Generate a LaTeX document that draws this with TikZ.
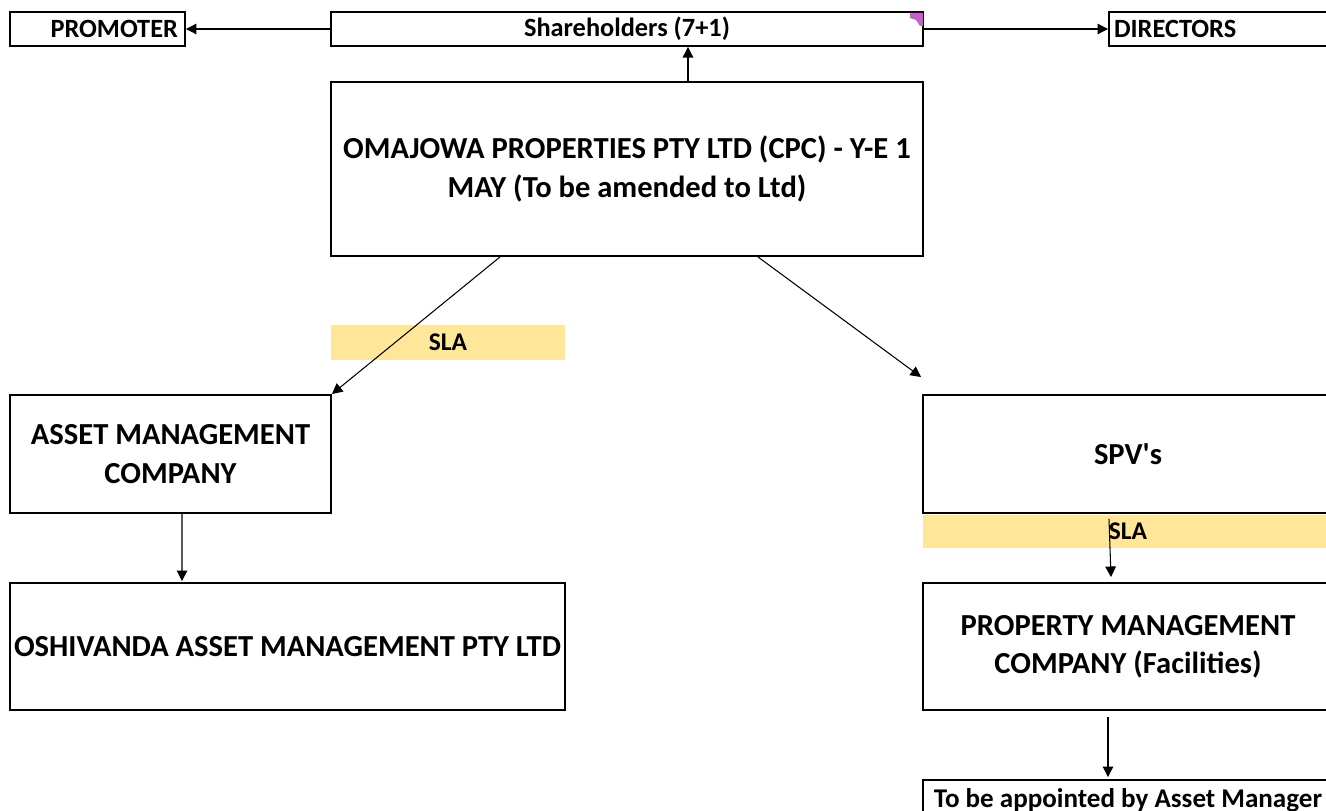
\documentclass[tikz,border=0pt]{standalone}
\usepackage{fontspec}
\setmainfont{Carlito}
\usetikzlibrary{arrows.meta}
\definecolor{slaYellow}{HTML}{FFE699}
\definecolor{notePurple}{HTML}{C064C8}
\tikzset{every picture/.style={semithick, >={Triangle[length=6pt,width=6pt]}}}
\tikzset{box/.style={draw=black, line width=1.1pt, fill=white, inner sep=0pt, align=center, font=\bfseries\fontsize{17.4}{21.8}\selectfont}}
\tikzset{topbox/.style={box, minimum height=0.68cm, font=\bfseries\fontsize{15}{17}\selectfont}}
\tikzset{slaband/.style={fill=slaYellow, inner sep=0pt, font=\bfseries\fontsize{14.5}{17}\selectfont}}

\begin{document}
\begin{tikzpicture}[x=0.02cm, y=-0.02cm]
        \useasboundingbox (0,0) rectangle (1326,811);
        % top row
        \node[topbox, minimum width=3.5cm, text width=3.22cm, align=right] (promoter) at (97.5,29) {PROMOTER};
        \node[topbox, minimum width=11.84cm] (share) at (627,29) {Shareholders (7+1)};
        \node[topbox, minimum width=4.62cm, text width=4.42cm, align=left] (directors) at (1224.5,29) {DIRECTORS};
        \fill[notePurple] (910,13) -- (923,13) -- (923,26) -- (920,26) -- (916,20) -- (910,18) -- cycle;
        % main company
        \node[box, minimum width=11.84cm, minimum height=3.48cm] (omajowa) at (627,169) {OMAJOWA PROPERTIES PTY LTD (CPC) - Y-E 1\\MAY (To be amended to Ltd)};
        \node[slaband, minimum width=4.68cm, minimum height=0.7cm] (sla1) at (448,342.5) {SLA};
        % left branch
        \node[box, minimum width=6.42cm, minimum height=2.36cm] (asset) at (170.5,454) {ASSET MANAGEMENT\\COMPANY};
        \node[box, minimum width=11.1cm, minimum height=2.54cm] (oshivanda) at (287.5,646.5) {OSHIVANDA ASSET MANAGEMENT PTY LTD};
        % right branch
        \node[box, minimum width=8.2cm, minimum height=2.36cm] (spv) at (1128,454) {SPV\textquotesingle s};
        \node[slaband, minimum width=8.2cm, minimum height=0.66cm] (sla2) at (1128,531.5) {SLA};
        \node[box, minimum width=8.2cm, minimum height=2.54cm] (pm) at (1128,646.5) {PROPERTY MANAGEMENT\\COMPANY (Facilities)};
        \node[box, minimum width=8.2cm, minimum height=0.8cm, font=\bfseries\fontsize{15.4}{18}\selectfont] (appointed) at (1128,800) {To be appointed by Asset Manager};
        % connectors
        \draw[->] (share.west) -- (promoter.east);
        \draw[->] (share.east) -- (directors.west);
        \draw[->] ([xshift=1.22cm]omajowa.north) -- ([xshift=1.22cm]share.south);
        \draw[->] ([xshift=-2.54cm]omajowa.south) -- (asset.north east);
        \draw[->] ([xshift=2.62cm]omajowa.south) -- ([xshift=-0.02cm,yshift=0.34cm]spv.north west);
        \draw[->] ([xshift=0.23cm]asset.south) -- ([xshift=-2.11cm,yshift=0.02cm]oshivanda.north);
        \draw[->] ([xshift=-0.38cm,yshift=-0.1cm]spv.south) -- ([xshift=-0.34cm,yshift=0.1cm]pm.north);
        \draw[->] ([xshift=-0.4cm,yshift=-0.12cm]pm.south) -- ([xshift=-0.4cm,yshift=0.04cm]appointed.north);
    \end{tikzpicture}
\end{document}
